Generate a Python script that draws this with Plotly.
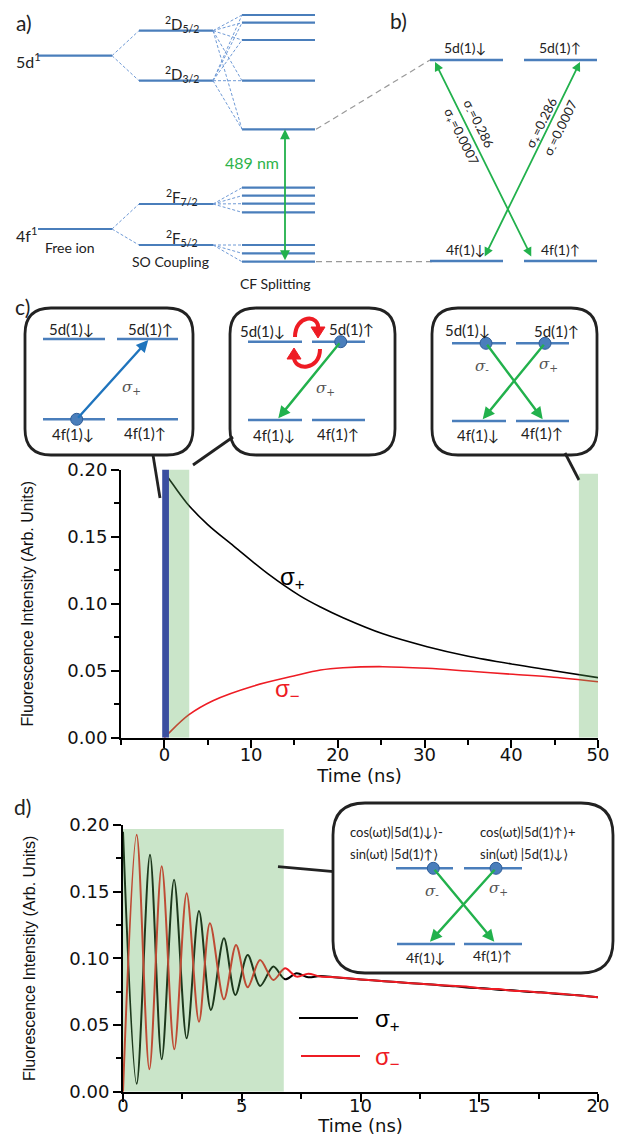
import plotly.graph_objects as go

# ---------------- data: panel c (Time in ns, fluorescence in arb. units) ----------------
c_t_plus = [0, 0.5, 2.6, 5, 8, 12, 15.6, 18, 20.6, 25.2, 30.3, 34.9, 40.2, 44.9, 50]
c_sigma_plus = [0.198, 0.1935, 0.175, 0.159, 0.143, 0.122, 0.106, 0.0975, 0.0895, 0.0775,
                0.0679, 0.061, 0.0548, 0.050, 0.0448]
c_t_minus = [0, 0.45, 2.8, 5.6, 10.3, 14.9, 18, 20.6, 25.2, 30.3, 34.9, 40.2, 44.9, 50]
c_sigma_minus = [0.0, 0.003, 0.017, 0.0276, 0.0386, 0.046, 0.0505, 0.0522, 0.053, 0.0518,
                 0.0498, 0.0473, 0.0451, 0.0418]
c_pulse = [-0.25, 0.53]          # excitation pulse (blue bar), ns
c_window_early = [0.53, 2.87]    # green window, ns
c_window_late = [47.8, 50]
c_window_top = [0.204, 0.197]

# ---------------- data: panel d ----------------
d_t_plus = [0, 0.575, 1.137, 1.63, 2.15, 2.68, 3.2, 3.7, 4.25, 4.73, 5.25, 5.77, 6.33, 6.82,
            7.31, 7.8, 8.3, 9, 10, 11, 12, 13, 14, 14.6, 15.2, 15.8, 16.4, 17, 17.6, 18.2, 19, 20]
d_sigma_plus = [0.195, 0.006, 0.1776, 0.0243, 0.159, 0.040, 0.1356, 0.0613, 0.115, 0.0725,
                0.1025, 0.0793, 0.0938, 0.0843, 0.0888, 0.0858, 0.0868, 0.0856, 0.0842, 0.0829,
                0.0816, 0.0803, 0.0790, 0.0779, 0.0776, 0.0765, 0.0760, 0.0750, 0.0745, 0.0735,
                0.0725, 0.0709]
d_t_minus = [0, 0.575, 1.11, 1.63, 2.16, 2.68, 3.2, 3.66, 4.25, 4.76, 5.25, 5.77, 6.33, 6.82,
             7.31, 7.8, 8.3, 9, 10, 11, 12, 13, 14, 14.6, 15.2, 15.8, 16.4, 17, 17.6, 18.2, 19, 20]
d_sigma_minus = [0.0, 0.1926, 0.0168, 0.169, 0.0318, 0.1488, 0.0525, 0.1263, 0.0693, 0.110,
                 0.0783, 0.0988, 0.0838, 0.0925, 0.0863, 0.0885, 0.0864, 0.0858, 0.0842, 0.0829,
                 0.0816, 0.0803, 0.0792, 0.0786, 0.0772, 0.0770, 0.0757, 0.0753, 0.0743, 0.0738,
                 0.0725, 0.0709]
d_window = [0, 6.77]
d_window_top = 0.197

# ---------------- tick labels ----------------
c_xticks = [0, 10, 20, 30, 40, 50]
c_xtick_text = ["0", "10", "20", "30", "40", "50"]
c_xminor = [-5, 5, 15, 25, 35, 45]
d_xticks = [0, 5, 10, 15, 20]
d_xtick_text = ["0", "5", "10", "15", "20"]
d_xminor = [2.5, 7.5, 12.5, 17.5]
y_ticks = [0, 0.05, 0.10, 0.15, 0.20]
y_tick_text = ["0.00", "0.05", "0.10", "0.15", "0.20"]
y_minor = [0.025, 0.075, 0.125, 0.175]

# ---------------- styling / layout constants ----------------
W, H = 623, 1136
LEVEL = "#4a7ebb"
GREEN = "#22b14c"
RED = "#ee1c24"
DIAG_FONT = "Lato, DejaVu Sans"
TICK_FONT = dict(family="DejaVu Sans", size=18, color="#111")

def px_dom_x(a, b):
    return [a / W, b / W]

def px_dom_y(top, bottom):
    return [1 - bottom / H, 1 - top / H]

fig = go.Figure()

# panel c traces
fig.add_trace(go.Scatter(x=c_t_plus, y=c_sigma_plus, mode="lines", line=dict(color="black", width=1.6, shape="spline"),
                         xaxis="x", yaxis="y", showlegend=False))
fig.add_trace(go.Scatter(x=c_t_minus, y=c_sigma_minus, mode="lines", line=dict(color=RED, width=1.6, shape="spline"),
                         xaxis="x", yaxis="y", showlegend=False))
# panel d traces
fig.add_trace(go.Scatter(x=d_t_plus, y=d_sigma_plus, mode="lines", line=dict(color="black", width=2, shape="spline", smoothing=0.9),
                         xaxis="x2", yaxis="y2", showlegend=False))
fig.add_trace(go.Scatter(x=d_t_minus, y=d_sigma_minus, mode="lines", line=dict(color=RED, width=2, shape="spline", smoothing=0.9),
                         xaxis="x2", yaxis="y2", showlegend=False))
# overlay (diagram) coordinate system, pixel units
fig.add_trace(go.Scatter(x=[], y=[], xaxis="x3", yaxis="y3", showlegend=False, hoverinfo="skip"))

axis_common = dict(showline=True, linewidth=2, linecolor="black", ticks="outside", ticklen=8, tickwidth=2,
                   tickcolor="black", showgrid=False, zeroline=False, tickfont=TICK_FONT, automargin=False)
YTITLE = dict(text="Fluorescence Intensity (Arb. Units)", font=dict(family="Liberation Sans", size=16, color="#111"),
              standoff=30)
XTITLE_C = dict(text="Time (ns)", font=dict(family="DejaVu Sans", size=18, color="#111"), standoff=3)
XTITLE_D = dict(text="Time (ns)", font=dict(family="DejaVu Sans", size=18, color="#111"), standoff=6)

fig.update_layout(
    width=W, height=H, margin=dict(l=0, r=0, t=0, b=0, pad=0, autoexpand=False),
    paper_bgcolor="white", plot_bgcolor="rgba(0,0,0,0)",
    font=dict(family=DIAG_FONT, color="#222"),
    xaxis=dict(axis_common, domain=px_dom_x(121, 598), range=[-5, 50], anchor="y",
               tickvals=c_xticks, ticktext=c_xtick_text, ticklabelstandoff=-8,
               minor=dict(tickvals=c_xminor, ticks="outside", ticklen=5, tickwidth=1.5, tickcolor="black"),
               title=XTITLE_C),
    yaxis=dict(axis_common, domain=px_dom_y(469.7, 737.7), range=[0, 0.2], anchor="x",
               tickvals=y_ticks, ticktext=y_tick_text,
               minor=dict(tickvals=y_minor, ticks="outside", ticklen=5, tickwidth=1.5, tickcolor="black"),
               title=YTITLE),
    xaxis2=dict(axis_common, domain=px_dom_x(123, 598), range=[0, 20], anchor="y2",
                tickvals=d_xticks, ticktext=d_xtick_text, ticklabelstandoff=-11,
                minor=dict(tickvals=d_xminor, ticks="outside", ticklen=5, tickwidth=1.5, tickcolor="black"),
                title=XTITLE_D),
    yaxis2=dict(axis_common, domain=px_dom_y(825, 1091.7), range=[0, 0.2], anchor="x2",
                tickvals=y_ticks, ticktext=y_tick_text,
                minor=dict(tickvals=y_minor, ticks="outside", ticklen=5, tickwidth=1.5, tickcolor="black"),
                title=YTITLE),
    xaxis3=dict(domain=[0, 1], range=[0, W], visible=False, anchor="y3", fixedrange=True, automargin=False),
    yaxis3=dict(domain=[0, 1], range=[H, 0], visible=False, anchor="x3", fixedrange=True, automargin=False),
)

shapes = []
annotations = []

def hline(x0, x1, y, color=LEVEL, width=2.2):
    shapes.append(dict(type="line", xref="x3", yref="y3", x0=x0, x1=x1, y0=y, y1=y,
                       line=dict(color=color, width=width), layer="above"))

def seg(x0, y0, x1, y1, color, width=1, dash="solid"):
    shapes.append(dict(type="line", xref="x3", yref="y3", x0=x0, x1=x1, y0=y0, y1=y1,
                       line=dict(color=color, width=width, dash=dash), layer="above"))

def text(x, y, s, size=15, color="#222", xanchor="center", family=DIAG_FONT, angle=0):
    annotations.append(dict(x=x, y=y, xref="x3", yref="y3", text=s, showarrow=False,
                            font=dict(family=family, size=size, color=color),
                            xanchor=xanchor, yanchor="middle", textangle=angle))

def arrow(xt, yt, xh, yh, color, width=2.2, both=False, size=1.0):
    d = dict(x=xh, y=yh, ax=xt, ay=yt, xref="x3", yref="y3", axref="x3", ayref="y3", text="",
             showarrow=True, arrowhead=2, arrowsize=size, arrowwidth=width, arrowcolor=color,
             standoff=0, startstandoff=0, arrowside="end+start" if both else "end")
    if both:
        d.update(startarrowhead=2, startarrowsize=size)
    annotations.append(d)

def dot(x, y, r=6):
    shapes.append(dict(type="circle", xref="x3", yref="y3", x0=x - r, x1=x + r, y0=y - r, y1=y + r,
                       fillcolor="#4a7ebb", line=dict(color="#2f5d98", width=1), layer="above"))

def rbox(x0, y0, x1, y1, r):
    p = (f"M {x0+r},{y0} L {x1-r},{y0} Q {x1},{y0} {x1},{y0+r} L {x1},{y1-r} Q {x1},{y1} {x1-r},{y1} "
         f"L {x0+r},{y1} Q {x0},{y1} {x0},{y1-r} L {x0},{y0+r} Q {x0},{y0} {x0+r},{y0} Z")
    shapes.append(dict(type="path", xref="x3", yref="y3", path=p, fillcolor="white",
                       line=dict(color="#222", width=2.8), layer="above"))

SIG = "DejaVu Serif"

# ================= panel a =================
text(14, 22, "a)", size=21, xanchor="left")
free_x, so_x, cf_x = (38, 112), (139, 213), (242, 315)
free_levels = [55.7, 229]
so_levels = [30.7, 80.7, 204, 245]
cf_d = [15, 22.7, 40, 80.7, 129.3]
cf_f72 = [187.7, 195.7, 203.7, 212.3]
cf_f52 = [245, 253.3, 261.7]
for y in free_levels:
    hline(*free_x, y)
for y in so_levels:
    hline(*so_x, y)
for y in cf_d + cf_f72 + cf_f52:
    hline(*cf_x, y)
fan = "#6f9ad6"
for yf, targets in [(free_levels[0], so_levels[:2]), (free_levels[1], so_levels[2:])]:
    for yt in targets:
        seg(free_x[1], yf, so_x[0], yt, fan, 1, "3px,2px")
for ys, targets in [(so_levels[0], cf_d), (so_levels[1], cf_d), (so_levels[2], cf_f72), (so_levels[3], cf_f52)]:
    for yt in targets:
        seg(so_x[1], ys, cf_x[0], yt, fan, 1, "3px,2px")
text(14, 60, "5d<sup>1</sup>", size=16, xanchor="left")
text(14, 234, "4f<sup>1</sup>", size=16, xanchor="left")
text(70, 247, "Free ion", size=14)
text(182, 24, "<sup>2</sup>D<sub>5/2</sub>", size=15)
text(182, 74, "<sup>2</sup>D<sub>3/2</sub>", size=15)
text(182, 197, "<sup>2</sup>F<sub>7/2</sub>", size=15)
text(182, 238, "<sup>2</sup>F<sub>5/2</sub>", size=15)
text(170, 261, "SO Coupling", size=14)
text(275, 283, "CF Splitting", size=14)
arrow(285, 261.7, 285, 129.3, GREEN, width=1.8, both=True, size=1.1)
text(252, 162, "489 nm", size=16, color="#2db34a")
seg(316, cf_d[-1], 430, 60, "#999999", 1.2, "6px,4px")
seg(316, cf_f52[-1], 433, 261.7, "#999999", 1.2, "6px,4px")

# ================= panel b =================
text(398, 20, "b)", size=21)
hline(430, 503, 60, width=2.5); hline(524, 597, 60, width=2.5)
hline(430, 503, 261, width=2.5); hline(524, 597, 261, width=2.5)
text(465, 47, "5d(1)↓", size=14); text(560, 47, "5d(1)↑", size=14)
text(465, 249, "4f(1)↓", size=14); text(560, 249, "4f(1)↑", size=14)
arrow(532, 258, 435, 62, GREEN, width=1.8, both=True)
arrow(484, 258, 580, 62, GREEN, width=1.8, both=True)
text(478, 124, "σ<sub>-</sub>=0.286", size=13, angle=63.7)
text(461, 137, "σ<sub>+</sub>=0.0007", size=13, angle=63.7)
text(542, 123, "σ<sub>+</sub>=0.286", size=13, angle=-63.7)
text(561, 128, "σ<sub>-</sub>=0.0007", size=13, angle=-63.7)

# ================= panel c insets =================
text(22, 306, "c)", size=21)
rbox(25, 308, 193, 455, 26)
rbox(230, 308, 395, 455, 26)
rbox(432, 308, 597, 455, 26)
# inset 1
hline(43, 105, 339, width=2.5); hline(117, 178, 339, width=2.5)
hline(43, 105, 419.3, width=2.5); hline(117, 178, 419.3, width=2.5)
text(71, 329, "5d(1)↓", size=15); text(150, 329, "5d(1)↑", size=15)
text(73, 434, "4f(1)↓", size=15); text(145, 433, "4f(1)↑", size=15)
arrow(76.7, 419.3, 148.3, 340, "#1f74bd", width=2.4)
dot(76.7, 419.3)
text(131.7, 387, "<i>σ</i><sub>+</sub>", size=15, color="#555", family=SIG)
# inset 2
hline(248, 302, 341.7, width=2.5); hline(312, 365, 341.7, width=2.5)
hline(248, 302, 420, width=2.5); hline(312, 365, 420, width=2.5)
text(262, 331, "5d(1)↓", size=15); text(351, 329, "5d(1)↑", size=15)
text(274, 435, "4f(1)↓", size=15); text(338, 434, "4f(1)↑", size=15)
arrow(340.7, 341.7, 278.3, 418.3, GREEN, width=2.4)
dot(340.7, 341.7)
text(325, 388, "<i>σ</i><sub>+</sub>", size=15, color="#555", family=SIG)
shapes.append(dict(type="path", xref="x3", yref="y3", path="M 295,337 C 295,314 320,314 318,329",
                   line=dict(color=RED, width=4), layer="above"))
shapes.append(dict(type="path", xref="x3", yref="y3", path="M 311,327 L 325,327 L 318,338 Z",
                   fillcolor=RED, line=dict(color=RED, width=1), layer="above"))
shapes.append(dict(type="path", xref="x3", yref="y3", path="M 320,349 C 320,371 294,371 294,357",
                   line=dict(color=RED, width=4), layer="above"))
shapes.append(dict(type="path", xref="x3", yref="y3", path="M 287,359 L 301,359 L 294,348 Z",
                   fillcolor=RED, line=dict(color=RED, width=1), layer="above"))
# inset 3
hline(452, 506, 343.3, width=2.5); hline(516, 569, 343.3, width=2.5)
hline(452, 506, 421, width=2.5); hline(516, 569, 421, width=2.5)
text(467, 330, "5d(1)↓", size=15); text(556, 331, "5d(1)↑", size=15)
text(478, 435, "4f(1)↓", size=15); text(542, 433, "4f(1)↑", size=15)
arrow(486, 343.3, 542.7, 419.3, GREEN, width=2.4)
arrow(545, 343.3, 482.7, 419.3, GREEN, width=2.4)
dot(486, 343.3); dot(545, 343.3)
text(481.7, 366, "<i>σ</i><sub>-</sub>", size=15, color="#555", family=SIG)
text(548, 364, "<i>σ</i><sub>+</sub>", size=15, color="#555", family=SIG)
# connectors
seg(153, 455, 160, 498, "#222", 2.8)
seg(233, 437, 193, 465, "#222", 2.8)
seg(565, 453, 579, 480, "#222", 2.8)

# panel c windows (drawn over the curves)
shapes.append(dict(type="rect", xref="x", yref="y", x0=c_window_early[0], x1=c_window_early[1], y0=0,
                   y1=c_window_top[0], fillcolor="rgb(89,173,86)", opacity=0.32, line=dict(width=0), layer="above"))
shapes.append(dict(type="rect", xref="x", yref="y", x0=c_window_late[0], x1=c_window_late[1], y0=0,
                   y1=c_window_top[1], fillcolor="rgb(89,173,86)", opacity=0.32, line=dict(width=0), layer="above"))
shapes.append(dict(type="rect", xref="x", yref="y", x0=c_pulse[0], x1=c_pulse[1], y0=0,
                   y1=c_window_top[0], fillcolor="#3a4fa0", line=dict(width=0), layer="above"))
text(278, 578, "σ<sub>+</sub>", size=24, color="black", xanchor="left", family="Liberation Sans")
text(273, 690, "σ<sub>−</sub>", size=24, color=RED, xanchor="left", family="Liberation Sans")

# ================= panel d =================
text(22, 806, "d)", size=21)
shapes.append(dict(type="rect", xref="x2", yref="y2", x0=d_window[0], x1=d_window[1], y0=0,
                   y1=d_window_top, fillcolor="rgb(89,173,86)", opacity=0.32, line=dict(width=0), layer="above"))
seg(278, 866.7, 334, 871.7, "#222", 2.8)
rbox(333, 803, 613, 973, 32)
text(348, 832, "cos(ωt)|5d(1)↓⟩-", size=13, xanchor="left")
text(348, 854, "sin(ωt) |5d(1)↑⟩", size=13, xanchor="left")
text(478, 832, "cos(ωt)|5d(1)↑⟩+", size=13, xanchor="left")
text(478, 854, "sin(ωt) |5d(1)↓⟩", size=13, xanchor="left")
hline(396, 453, 868.3, width=2.5); hline(464, 522, 868.3, width=2.5)
hline(397, 455, 944, width=2.5); hline(464, 522, 944, width=2.5)
arrow(433.3, 868.3, 494.3, 941.7, GREEN, width=2.4)
arrow(496, 868.3, 430, 941.7, GREEN, width=2.4)
dot(433.3, 868.3); dot(496, 868.3)
text(431.7, 891, "<i>σ</i><sub>-</sub>", size=15, color="#555", family=SIG)
text(498, 888, "<i>σ</i><sub>+</sub>", size=15, color="#555", family=SIG)
text(425, 957, "4f(1)↓", size=14); text(492, 955, "4f(1)↑", size=14)
# legend
seg(299, 1018, 358, 1018, "black", 2)
seg(301, 1056, 360, 1056, RED, 2)
text(373, 1020, "σ<sub>+</sub>", size=24, color="black", xanchor="left", family="Liberation Sans")
text(373, 1058, "σ<sub>−</sub>", size=24, color=RED, xanchor="left", family="Liberation Sans")

fig.update_layout(shapes=shapes, annotations=annotations)
# remove the browser's default 8px page margin so the figure sits at the window origin
fig.write_html("out.html", config={"displayModeBar": False},
               post_script="document.body.style.margin='0px';")
